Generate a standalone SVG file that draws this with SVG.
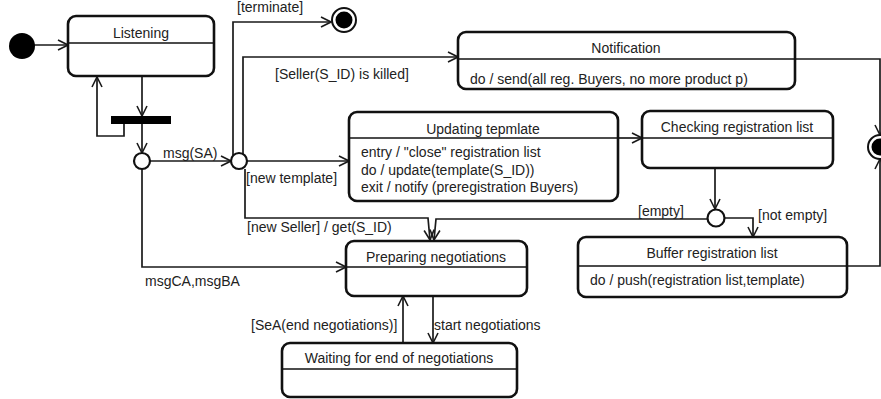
<svg xmlns="http://www.w3.org/2000/svg" width="881" height="399" viewBox="0 0 881 399">
  <defs>
    <marker id="open" viewBox="0 0 12 12" refX="11" refY="6" markerWidth="12" markerHeight="12" markerUnits="userSpaceOnUse" orient="auto">
      <path d="M1,1 L11,6 L1,11" fill="none" stroke="#1a1a1a" stroke-width="1.6"/>
    </marker>
  </defs>
  <style>
    .state { fill: #fff; stroke: #111; stroke-width: 2.6; }
    .div { stroke: #111; stroke-width: 1.6; }
    .edge { fill: none; stroke: #1a1a1a; stroke-width: 1.7; }
    .arr { marker-end: url(#open); }
    text { font-family: "Liberation Sans", Arial, sans-serif; font-size: 14px; fill: #222; }
    .title { text-anchor: middle; }
    .pseudo { fill: #fff; stroke: #111; stroke-width: 2.2; }
  </style>
  <rect width="881" height="399" fill="#fff"/>

  <!-- transitions -->
  <g id="connectors">
    <line class="edge arr" x1="34" y1="45" x2="68" y2="45"/>
    <line class="edge arr" x1="142" y1="76" x2="142" y2="116"/>
    <line class="edge arr" x1="142" y1="124" x2="142" y2="153"/>
    <polyline class="edge arr" points="124,124 124,136 97,136 97,77"/>
    <line class="edge arr" x1="150" y1="161" x2="231" y2="161"/>
    <polyline class="edge arr" points="233,155 233,22 331,22"/>
    <polyline class="edge arr" points="243,154 243,57 458,57"/>
    <line class="edge arr" x1="247" y1="161" x2="349" y2="161"/>
    <polyline class="edge arr" points="245,169 245,218 428,218 430,240"/>
    <polyline class="edge arr" points="708,219 436,219 434,240"/>
    <polyline class="edge arr" points="795,59 880,59 880,135"/>
    <line class="edge arr" x1="618" y1="138" x2="642" y2="138"/>
    <line class="edge arr" x1="715" y1="168" x2="715" y2="209"/>
    <polyline class="edge arr" points="725,218 753,218 753,237"/>
    <polyline class="edge arr" points="847,266 880,266 880,159"/>
    <polyline class="edge arr" points="142,169 142,267 346,267"/>
    <line class="edge arr" x1="433" y1="296" x2="433" y2="343"/>
    <line class="edge arr" x1="403" y1="343" x2="403" y2="296"/>

    <text x="163" y="158">msg(SA)</text>
    <text x="237" y="12">[terminate]</text>
    <text x="275" y="79">[Seller(S_ID) is killed]</text>
    <text x="246" y="183">[new template]</text>
    <text x="247" y="232">[new Seller] / get(S_ID)</text>
    <text x="145" y="286">msgCA,msgBA</text>
    <text x="638" y="216">[empty]</text>
    <text x="758" y="220">[not empty]</text>
    <text x="251" y="330">[SeA(end negotiations)]</text>
    <text x="434" y="330">start negotiations</text>
  </g>

  <!-- pseudo states -->
  <g id="initial">
    <circle cx="22" cy="46" r="13" fill="#000"/>
  </g>
  <g id="fork-bar">
    <rect x="111" y="116" width="60" height="8" fill="#000"/>
  </g>
  <g id="choice-msg">
    <circle class="pseudo" cx="142" cy="161" r="8"/>
  </g>
  <g id="choice-seller">
    <circle class="pseudo" cx="239" cy="161" r="8"/>
  </g>
  <g id="choice-list">
    <circle class="pseudo" cx="716" cy="218" r="8.5"/>
  </g>
  <g id="final-terminate">
    <circle cx="344" cy="20" r="12" fill="#fff" stroke="#111" stroke-width="2"/>
    <circle cx="344" cy="20" r="8.5" fill="#000"/>
  </g>
  <g id="final-right">
    <circle cx="880" cy="147" r="12" fill="#fff" stroke="#111" stroke-width="2"/>
    <circle cx="880" cy="147" r="8.5" fill="#000"/>
  </g>

  <!-- states -->
  <g id="listening">
    <rect class="state" x="68" y="16" width="146" height="60" rx="8"/>
    <line class="div" x1="68" y1="43" x2="214" y2="43"/>
    <text class="title" x="141" y="38">Listening</text>
  </g>
  <g id="notification">
    <rect class="state" x="458" y="32" width="337" height="57" rx="8"/>
    <line class="div" x1="458" y1="59" x2="795" y2="59"/>
    <text class="title" x="626" y="53">Notification</text>
    <text x="470" y="84">do / send(all reg. Buyers, no more product p)</text>
  </g>
  <g id="updating-template">
    <rect class="state" x="349" y="112" width="269" height="89" rx="8"/>
    <line class="div" x1="349" y1="138" x2="618" y2="138"/>
    <text class="title" x="483" y="134">Updating tepmlate</text>
    <text x="361" y="157">entry / "close" registration list</text>
    <text x="361" y="175">do / update(template(S_ID))</text>
    <text x="361" y="192">exit / notify (preregistration Buyers)</text>
  </g>
  <g id="checking-list">
    <rect class="state" x="642" y="111" width="191" height="57" rx="8"/>
    <line class="div" x1="642" y1="138" x2="833" y2="138"/>
    <text class="title" x="737" y="132">Checking registration list</text>
  </g>
  <g id="buffer-list">
    <rect class="state" x="578" y="237" width="269" height="60" rx="8"/>
    <line class="div" x1="578" y1="266" x2="847" y2="266"/>
    <text class="title" x="712" y="258">Buffer registration list</text>
    <text x="590" y="285">do / push(registration list,template)</text>
  </g>
  <g id="preparing">
    <rect class="state" x="346" y="241" width="181" height="55" rx="8"/>
    <line class="div" x1="346" y1="267" x2="527" y2="267"/>
    <text class="title" x="436" y="262">Preparing negotiations</text>
  </g>
  <g id="waiting">
    <rect class="state" x="282" y="343" width="235" height="54" rx="8"/>
    <line class="div" x1="282" y1="369" x2="517" y2="369"/>
    <text class="title" x="399" y="363">Waiting for end of negotiations</text>
  </g>
</svg>
